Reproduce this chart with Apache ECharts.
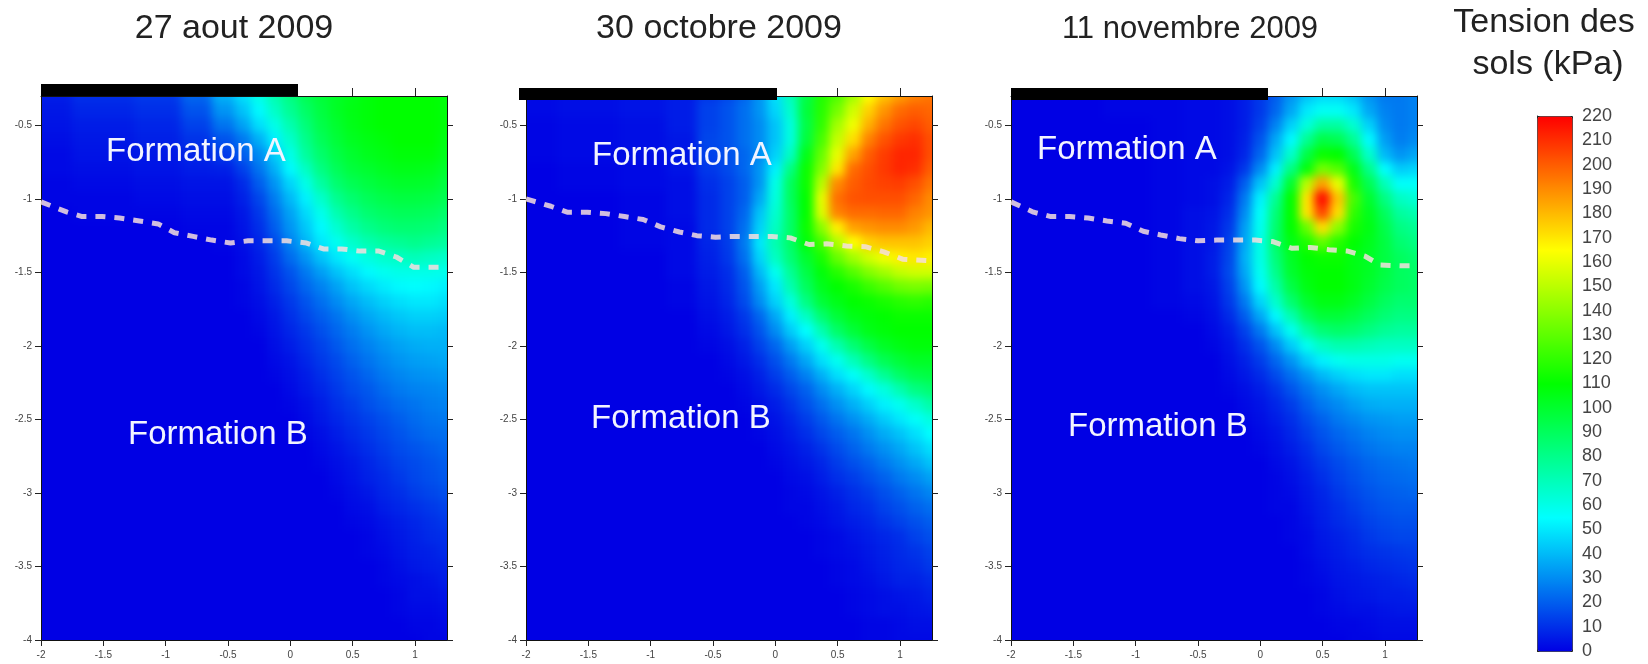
<!DOCTYPE html>
<html><head><meta charset="utf-8">
<style>html,body{margin:0;padding:0;background:#fff}#chart{width:1648px;height:664px}</style>
<script src="https://cdn.jsdelivr.net/npm/echarts@6/dist/echarts.min.js"></script>
</head><body><div id="chart"></div>
<script>
const panelTitles = ['27 aout 2009', '30 octobre 2009', '11 novembre 2009'];
const legendTitleLines = ['Tension des', 'sols (kPa)'];
const xTicks = [-2, -1.5, -1, -0.5, 0, 0.5, 1];
const yTicks = [-4, -3.5, -3, -2.5, -2, -1.5, -1, -0.5];
const topTicks = [0.5, 1];
const xCenters = [-2, -1.5, -1, -0.75, -0.5, -0.375, -0.25, -0.125, 0, 0.125, 0.25, 0.375, 0.5, 0.625, 0.75, 0.875, 1, 1.125, 1.25];
const yCenters = [-0.3, -0.4, -0.5, -0.6, -0.7, -0.8, -0.9, -1, -1.1, -1.2, -1.3, -1.4, -1.5, -1.6, -1.7, -1.8, -1.9, -2, -2.1, -2.2, -2.3, -2.4, -2.5, -2.6, -2.7, -2.8, -2.9, -3, -3.1, -3.2, -3.3, -3.4, -3.5, -3.6, -3.7, -3.8, -3.9, -4];

const tensionAout = [
 [6,10,12,22,38,48,60,72,82,92,98,102,105,108,110,110,110,110,108],
 [5,8,10,18,32,42,54,67,78,88,96,102,106,108,110,110,110,110,108],
 [4,6,8,14,25,35,48,60,72,84,94,100,105,108,110,110,110,110,108],
 [3,5,7,11,18,26,38,52,66,80,91,98,103,106,108,110,110,110,106],
 [2,4,5,8,12,20,30,44,60,76,87,95,100,104,106,108,108,108,104],
 [2,3,4,6,7,14,25,38,54,68,82,91,97,100,103,105,105,104,100],
 [1,2,3,4,4,9,20,32,46,60,75,86,92,96,99,101,101,100,96],
 [1,1,2,3,3,7,15,27,40,52,66,79,86,91,94,96,96,95,92],
 [0,1,1,2,2,5,12,23,35,47,59,72,80,86,89,91,91,90,87],
 [0,0,0,1,1,4,10,20,32,43,54,65,74,80,84,86,86,85,82],
 [0,0,0,0,1,3,8,16,28,39,50,58,66,72,76,78,80,78,76],
 [0,0,0,0,0,2,6,13,23,32,42,50,57,62,66,68,70,68,66],
 [0,0,0,0,0,2,5,11,18,26,34,42,48,54,58,60,60,60,59],
 [0,0,0,0,0,1,4,9,15,22,28,35,42,47,51,54,55,54,52],
 [0,0,0,0,0,1,3,7,12,18,24,30,36,41,45,48,50,50,48],
 [0,0,0,0,0,0,2,5,10,15,20,25,31,36,40,43,45,45,44],
 [0,0,0,0,0,0,1,4,8,12,17,22,27,32,36,39,41,41,40],
 [0,0,0,0,0,0,0,3,6,10,14,19,24,28,32,35,37,38,38],
 [0,0,0,0,0,0,0,2,4,8,12,16,21,25,29,32,34,35,36],
 [0,0,0,0,0,0,0,1,3,6,10,14,18,22,26,29,31,32,33],
 [0,0,0,0,0,0,0,0,2,5,8,12,16,19,23,26,28,29,30],
 [0,0,0,0,0,0,0,0,1,3,6,10,13,17,20,23,25,27,28],
 [0,0,0,0,0,0,0,0,0,2,5,8,11,14,17,20,23,25,26],
 [0,0,0,0,0,0,0,0,0,1,3,6,9,12,15,18,21,23,24],
 [0,0,0,0,0,0,0,0,0,0,2,4,7,10,13,16,18,20,22],
 [0,0,0,0,0,0,0,0,0,0,1,3,5,8,11,14,16,18,20],
 [0,0,0,0,0,0,0,0,0,0,0,2,4,7,9,12,15,17,19],
 [0,0,0,0,0,0,0,0,0,0,0,1,3,5,8,10,13,15,17],
 [0,0,0,0,0,0,0,0,0,0,0,0,2,3,6,8,10,12,14],
 [0,0,0,0,0,0,0,0,0,0,0,0,1,2,4,6,8,10,12],
 [0,0,0,0,0,0,0,0,0,0,0,0,0,1,3,5,7,9,10],
 [0,0,0,0,0,0,0,0,0,0,0,0,0,1,2,4,6,7,9],
 [0,0,0,0,0,0,0,0,0,0,0,0,0,0,1,3,5,6,7],
 [0,0,0,0,0,0,0,0,0,0,0,0,0,0,1,2,3,4,6],
 [0,0,0,0,0,0,0,0,0,0,0,0,0,0,0,1,3,3,4],
 [0,0,0,0,0,0,0,0,0,0,0,0,0,0,0,1,2,2,3],
 [0,0,0,0,0,0,0,0,0,0,0,0,0,0,0,0,1,1,2],
 [0,0,0,0,0,0,0,0,0,0,0,0,0,0,0,0,0,1,1]
];
const tensionOctobre = [
 [2,3,4,6,12,16,22,32,48,70,95,117,127,145,165,178,186,192,195],
 [2,3,4,6,14,18,24,32,46,66,97,118,135,155,175,188,197,200,198],
 [1,2,3,6,14,18,24,30,42,62,95,120,145,162,182,195,202,205,200],
 [1,2,3,5,15,18,24,30,42,62,97,125,152,172,192,202,208,210,203],
 [1,2,3,5,14,17,22,30,45,68,105,132,160,185,200,207,212,212,203],
 [0,1,2,4,12,16,22,32,52,82,112,138,170,197,203,208,212,210,200],
 [0,1,2,3,10,14,20,32,60,90,112,150,190,200,204,206,207,203,195],
 [0,0,1,3,9,14,20,36,62,90,110,160,196,202,203,203,203,198,190],
 [0,0,1,3,9,14,22,42,65,88,110,158,192,197,197,198,198,192,188],
 [0,0,1,2,9,14,24,45,68,88,112,140,168,185,188,190,190,187,180],
 [0,0,1,2,8,13,26,50,72,88,108,125,148,165,175,178,178,178,175],
 [0,0,0,2,7,12,24,46,68,85,100,115,132,145,155,162,168,170,168],
 [0,0,0,2,6,10,20,40,58,78,95,108,118,128,138,145,152,155,155],
 [0,0,0,1,5,9,18,34,50,72,90,104,110,115,122,128,134,136,135],
 [0,0,0,1,4,8,16,30,45,62,82,98,105,110,112,115,118,120,118],
 [0,0,0,0,3,6,12,22,36,52,68,86,98,105,108,110,112,112,112],
 [0,0,0,0,2,5,10,18,30,44,55,72,88,98,105,108,110,110,110],
 [0,0,0,0,1,3,7,14,22,34,45,58,72,85,95,102,106,108,108],
 [0,0,0,0,0,2,5,10,17,26,36,48,58,70,82,92,98,102,102],
 [0,0,0,0,0,1,3,7,13,20,28,38,48,56,66,78,88,94,96],
 [0,0,0,0,0,0,2,5,9,15,21,30,38,46,54,62,72,82,86],
 [0,0,0,0,0,0,1,3,6,11,17,24,31,38,45,52,58,66,74],
 [0,0,0,0,0,0,0,2,4,8,13,19,25,31,37,44,50,56,62],
 [0,0,0,0,0,0,0,1,3,6,10,15,20,25,31,37,42,48,55],
 [0,0,0,0,0,0,0,0,2,4,7,11,16,21,26,31,36,42,48],
 [0,0,0,0,0,0,0,0,1,3,5,8,13,17,21,26,31,36,42],
 [0,0,0,0,0,0,0,0,0,2,3,6,10,13,17,21,26,30,35],
 [0,0,0,0,0,0,0,0,0,1,2,4,7,10,13,17,21,25,29],
 [0,0,0,0,0,0,0,0,0,1,1,3,5,8,10,14,17,21,24],
 [0,0,0,0,0,0,0,0,0,0,1,2,4,6,8,11,14,17,20],
 [0,0,0,0,0,0,0,0,0,0,0,1,2,4,6,8,10,14,17],
 [0,0,0,0,0,0,0,0,0,0,0,1,2,3,5,7,9,11,14],
 [0,0,0,0,0,0,0,0,0,0,0,0,1,2,4,6,8,9,12],
 [0,0,0,0,0,0,0,0,0,0,0,0,1,2,3,5,7,7,9],
 [0,0,0,0,0,0,0,0,0,0,0,0,0,1,2,3,4,5,7],
 [0,0,0,0,0,0,0,0,0,0,0,0,0,1,2,3,3,4,5],
 [0,0,0,0,0,0,0,0,0,0,0,0,0,0,1,1,2,3,3],
 [0,0,0,0,0,0,0,0,0,0,0,0,0,0,1,1,2,2,2]
];
const tensionNovembre = [
 [0,0,1,1,2,2,3,6,12,20,32,42,47,47,42,32,26,26,28],
 [0,0,1,1,2,2,3,6,12,22,36,50,57,57,50,36,28,26,28],
 [0,0,0,1,2,2,3,6,14,28,45,62,75,75,65,45,30,26,28],
 [0,0,0,1,2,2,3,7,18,36,54,78,95,92,78,54,34,27,30],
 [0,0,0,1,2,2,3,8,22,42,66,95,112,110,92,66,40,32,36],
 [0,0,0,1,2,2,4,12,30,52,82,108,135,128,105,80,55,44,46],
 [0,0,0,1,2,3,6,20,42,65,100,150,185,160,115,92,70,56,56],
 [0,0,0,1,2,3,8,26,52,78,110,170,218,178,125,100,82,68,64],
 [0,0,0,1,3,4,10,30,56,84,110,170,205,172,120,104,90,76,72],
 [0,0,0,1,3,5,12,34,58,86,110,132,172,140,115,106,94,82,78],
 [0,0,0,1,3,5,14,36,60,88,106,116,130,118,110,104,96,86,82],
 [0,0,0,1,3,6,15,38,60,84,102,110,112,112,106,102,96,90,86],
 [0,0,0,1,3,6,16,36,58,80,100,108,110,110,106,102,96,90,88],
 [0,0,0,1,3,5,14,32,54,74,95,106,110,110,106,100,94,90,88],
 [0,0,0,1,2,4,12,26,46,66,86,100,106,106,102,96,90,86,86],
 [0,0,0,0,1,3,9,20,36,54,72,90,98,98,95,90,85,82,82],
 [0,0,0,0,0,2,6,14,26,42,58,75,85,88,86,82,78,76,76],
 [0,0,0,0,0,1,4,10,18,30,44,58,68,72,72,70,68,68,68],
 [0,0,0,0,0,0,3,7,13,22,32,44,52,58,60,60,60,58,58],
 [0,0,0,0,0,0,2,5,9,16,24,32,40,45,48,50,50,48,48],
 [0,0,0,0,0,0,1,3,6,11,18,25,31,36,40,42,42,42,42],
 [0,0,0,0,0,0,0,2,4,8,13,20,26,30,34,37,38,38,38],
 [0,0,0,0,0,0,0,1,3,6,10,16,21,26,29,32,33,34,34],
 [0,0,0,0,0,0,0,0,2,4,8,13,18,22,25,28,30,31,31],
 [0,0,0,0,0,0,0,0,1,3,6,10,15,19,22,25,27,28,28],
 [0,0,0,0,0,0,0,0,0,2,4,8,12,16,19,22,24,25,26],
 [0,0,0,0,0,0,0,0,0,1,3,6,10,14,17,20,22,23,24],
 [0,0,0,0,0,0,0,0,0,1,2,5,8,12,15,18,20,21,22],
 [0,0,0,0,0,0,0,0,0,1,1,4,7,10,13,16,18,19,19],
 [0,0,0,0,0,0,0,0,0,0,1,3,6,9,11,14,16,17,17],
 [0,0,0,0,0,0,0,0,0,0,1,2,5,7,9,12,14,15,15],
 [0,0,0,0,0,0,0,0,0,0,0,2,4,6,8,10,11,12,13],
 [0,0,0,0,0,0,0,0,0,0,0,1,3,5,6,8,9,10,11],
 [0,0,0,0,0,0,0,0,0,0,0,1,2,4,5,6,7,8,9],
 [0,0,0,0,0,0,0,0,0,0,0,0,1,3,4,5,6,6,7],
 [0,0,0,0,0,0,0,0,0,0,0,0,1,2,3,3,4,5,5],
 [0,0,0,0,0,0,0,0,0,0,0,0,0,1,1,2,3,3,3],
 [0,0,0,0,0,0,0,0,0,0,0,0,0,0,1,1,2,2,2]
];
const limitAout = [[-2,-1.02],[-1.79,-1.09],[-1.67,-1.12],[-1.51,-1.12],[-1.37,-1.13],[-1.21,-1.15],[-1.06,-1.17],[-0.93,-1.23],[-0.78,-1.255],[-0.63,-1.28],[-0.48,-1.3],[-0.34,-1.285],[-0.18,-1.285],[-0.03,-1.285],[0.13,-1.3],[0.265,-1.34],[0.41,-1.34],[0.56,-1.355],[0.71,-1.355],[0.85,-1.395],[0.99,-1.465],[1.13,-1.465],[1.25,-1.465]];
const limitOctobre = [[-2,-1],[-1.8,-1.05],[-1.67,-1.09],[-1.51,-1.09],[-1.36,-1.1],[-1.21,-1.12],[-1.06,-1.14],[-0.92,-1.19],[-0.77,-1.225],[-0.63,-1.25],[-0.48,-1.26],[-0.33,-1.255],[-0.17,-1.255],[-0.03,-1.255],[0.12,-1.265],[0.27,-1.31],[0.41,-1.305],[0.57,-1.32],[0.72,-1.325],[0.87,-1.36],[1.02,-1.41],[1.25,-1.42]];
const limitNovembre = [[-2,-1.02],[-1.82,-1.09],[-1.68,-1.12],[-1.53,-1.12],[-1.38,-1.13],[-1.23,-1.15],[-1.08,-1.165],[-0.94,-1.22],[-0.8,-1.245],[-0.65,-1.27],[-0.5,-1.285],[-0.35,-1.28],[-0.2,-1.28],[-0.04,-1.28],[0.1,-1.29],[0.25,-1.335],[0.4,-1.33],[0.55,-1.345],[0.7,-1.355],[0.84,-1.39],[0.96,-1.45],[1.12,-1.455],[1.25,-1.455]];
const formationNames = ['Formation A', 'Formation B'];

const FONT = '"Liberation Sans", Arial, sans-serif';
const fields = [tensionAout, tensionOctobre, tensionNovembre];
const limits = [limitAout, limitOctobre, limitNovembre];
const panelLeft = [41, 526, 1011];
const PW = 406, PT = 96, PH = 544;
const titleCenter = [234, 719, 1190];
const titleSize = [34, 34, 31];
const titleTop = [12, 12, 14];
const barBox = [[41, 84, 257, 12], [519, 88, 258, 12], [1011, 88, 257, 12]];
const textPos = [[[106, 152], [128, 435]], [[592, 156], [591, 419]], [[1037, 150], [1068, 427]]];

// Cell edges lie half-way between neighbouring read positions.
const edgeOf = (list, v, dir) => {
  const i = list.indexOf(v), n = list[i + dir];
  return n === undefined ? null : (v + n) / 2;
};
const renderCell = (p, api) => {
  const x = api.value(0), y = api.value(1);
  const xl = edgeOf(xCenters, x, -1), xr = edgeOf(xCenters, x, 1);
  const yt = edgeOf(yCenters, y, -1), yb = edgeOf(yCenters, y, 1);
  const a = api.coord([xl === null ? x : xl, yt === null ? y : yt]);
  const b = api.coord([xr === null ? x : xr, yb === null ? y : yb]);
  const x0 = Math.floor(a[0]) - (xl === null ? 40 : 0), y0 = Math.floor(a[1]) - (yt === null ? 40 : 0);
  const x1 = Math.ceil(b[0]) + (xr === null ? 40 : 0), y1 = Math.ceil(b[1]) + (yb === null ? 40 : 0);
  return { type: 'rect', shape: { x: x0, y: y0, width: x1 - x0, height: y1 - y0 }, style: { fill: api.visual('color') } };
};
const axisBase = { axisLine: { onZero: false, lineStyle: { color: '#111', width: 1 } } };
const labelStyle = { color: '#444', fontSize: 10, fontFamily: FONT };
const grid = [], xAxis = [], yAxis = [], series = [], graphic = [], title = [];
fields.forEach((f, i) => {
  grid.push({ left: panelLeft[i], top: PT, width: PW, height: PH });
  xAxis.push({ ...axisBase, type: 'value', gridIndex: i, min: -2, max: 1.256, position: 'bottom', splitLine: { show: false },
    axisTick: { length: 6, customValues: xTicks, lineStyle: { color: '#222' } },
    axisLabel: { ...labelStyle, margin: 10, customValues: xTicks } });
  xAxis.push({ ...axisBase, type: 'value', gridIndex: i, min: -2, max: 1.256, position: 'top', splitLine: { show: false },
    axisTick: { length: 8, customValues: topTicks, lineStyle: { color: '#222' } }, axisLabel: { show: false } });
  yAxis.push({ ...axisBase, type: 'value', gridIndex: i, min: -4, max: -0.3, position: 'left', splitLine: { show: false },
    axisTick: { length: 6, customValues: yTicks, lineStyle: { color: '#222' } },
    axisLabel: { ...labelStyle, margin: 9, customValues: yTicks } });
  yAxis.push({ ...axisBase, type: 'value', gridIndex: i, min: -4, max: -0.3, position: 'right', splitLine: { show: false },
    axisTick: { length: 6, customValues: yTicks, lineStyle: { color: '#222' } }, axisLabel: { show: false } });
  const cells = [];
  f.forEach((row, r) => row.forEach((v, c) => cells.push([xCenters[c], yCenters[r], v])));
  series.push({ type: 'custom', name: panelTitles[i], xAxisIndex: i * 2, yAxisIndex: i * 2, zlevel: -1, silent: true, renderItem: renderCell, data: cells, dimensions: ['x', 'y', 'tension'], encode: { x: 0, y: 1 } });
  title.push({ text: panelTitles[i], left: titleCenter[i], top: titleTop[i], padding: 0, textAlign: 'center', textStyle: { fontSize: titleSize[i], fontWeight: 'normal', fontFamily: FONT, color: '#222' } });
  const b = barBox[i];
  graphic.push({ type: 'rect', z: 50, shape: { x: b[0], y: b[1], width: b[2], height: b[3] }, style: { fill: '#000' } });
  formationNames.forEach((t, k) => graphic.push({ type: 'text', z: 50, style: { text: t, x: textPos[i][k][0], y: textPos[i][k][1], fill: '#f2f4ff', font: '33px ' + FONT, textAlign: 'left', textVerticalAlign: 'middle' } }));
});
fields.forEach((f, i) => series.push({ type: 'line', xAxisIndex: i * 2, yAxisIndex: i * 2, data: limits[i], showSymbol: false, silent: true, z: 10,
  lineStyle: { color: '#f4dede', width: 5, opacity: 0.85, type: [10, 9] } }));
title.push({ text: legendTitleLines[0], left: 1544, top: 6, padding: 0, textAlign: 'center', textStyle: { fontSize: 34, fontWeight: 'normal', fontFamily: FONT, color: '#222' } });
title.push({ text: legendTitleLines[1], left: 1548, top: 48, padding: 0, textAlign: 'center', textStyle: { fontSize: 34, fontWeight: 'normal', fontFamily: FONT, color: '#222' } });
grid.push({ left: 1537, top: 116, width: 35, height: 535 });
xAxis.push({ type: 'value', gridIndex: 3, show: false, min: 0, max: 1 });
yAxis.push({ type: 'value', gridIndex: 3, position: 'right', min: 0, max: 220, interval: 10, splitLine: { show: false },
  axisLine: { show: true, lineStyle: { color: '#222' } }, axisTick: { length: 10, lineStyle: { color: '#444' } },
  axisLabel: { margin: 10, color: '#444', fontSize: 18, fontFamily: FONT } });

const chart = echarts.init(document.getElementById('chart'), null, { renderer: 'canvas' });
chart.setOption({
  animation: false, backgroundColor: 'transparent', title, grid, xAxis, yAxis, series,
  visualMap: { type: 'continuous', min: 0, max: 220, dimension: 2, seriesIndex: [0, 1, 2], left: 1537, top: 116, itemWidth: 35, itemHeight: 535, padding: 0, calculable: false, text: null, showLabel: false, borderColor: '#222', borderWidth: 1, hoverLink: false,
    inRange: { color: ['#0000e4', '#00ffff', '#00ff00', '#ffff00', '#ff0000'] } },
  graphic: { elements: graphic }
});
const layer = document.querySelector('#chart canvas');
layer.style.filter = 'blur(5px)';
layer.style.clipPath = "path('" + panelLeft.map(l => `M${l} ${PT}H${l + PW}V${PT + PH}H${l}Z`).join(' ') + "')";
</script></body></html>
